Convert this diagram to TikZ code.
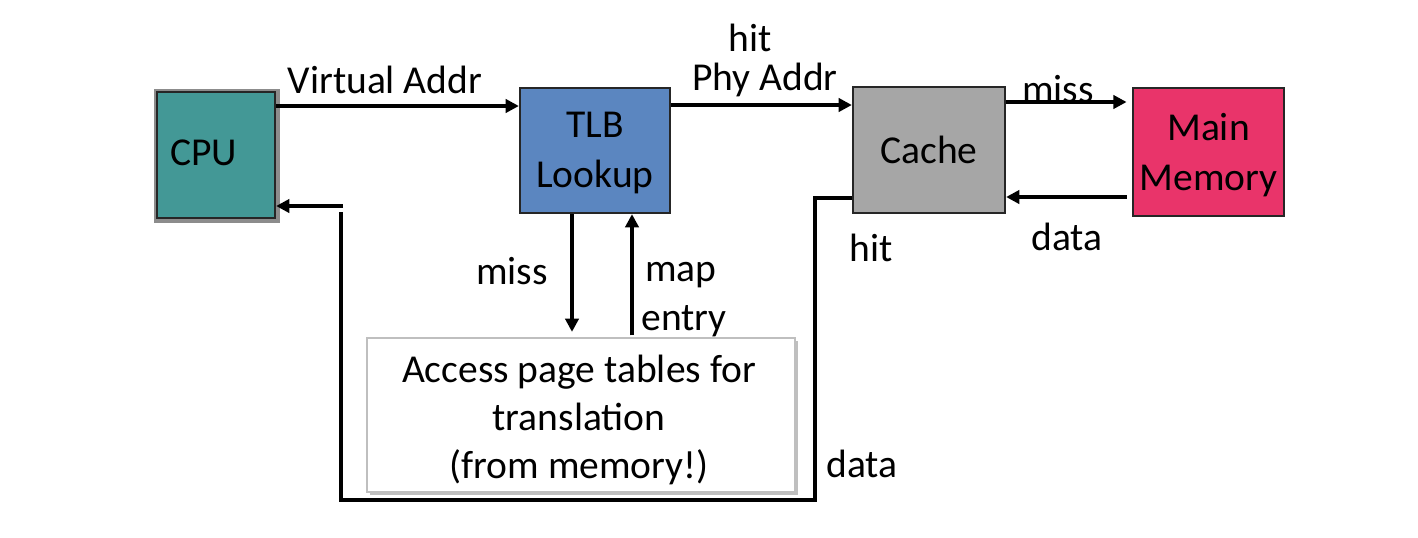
\documentclass[tikz,border=0pt]{standalone}
\usepackage{fontspec}
\setmainfont{Carlito}
\usetikzlibrary{arrows.meta}
\definecolor{cputeal}{RGB}{67,152,150}
\definecolor{tlbblue}{RGB}{91,134,192}
\definecolor{cachegray}{RGB}{166,166,166}
\definecolor{mempink}{RGB}{233,52,106}
\tikzset{
  blk/.style={draw=black!85, line width=1.3pt, inner sep=0pt, align=center},
  arr/.style={line width=2.1pt, -{Triangle[length=7.5pt,width=7.5pt]}},
  ln/.style={line width=2.1pt},
  lbl/.style={inner sep=0pt},
  two/.style={inner sep=0pt, align=center, font=\fontsize{22.5}{28.5}\selectfont}
}
\begin{document}
\begin{tikzpicture}[x=0.02cm,y=-0.02cm,font=\fontsize{22.5}{27}\selectfont]
\useasboundingbox (0,0) rectangle (1418,538);
% shadows
\fill[black!45] (154,89) rectangle (280,223);
\fill[black!25] (370,341) rectangle (798,495);
% boxes
\node[blk, fill=cputeal, minimum width=2.36cm, minimum height=2.52cm] (cpu) at (216,155) {};
\node[lbl, anchor=west] (cputxt) at (170,153) {CPU};
\node[blk, fill=tlbblue, minimum width=3.0cm, minimum height=2.5cm] (tlb) at (595,150.5) {};
\node[two] (tlbtxt) at (595,153) {TLB\\Lookup};
\node[blk, fill=cachegray, minimum width=3.04cm, minimum height=2.52cm] (cache) at (929,150) {Cache};
\node[blk, fill=mempink, minimum width=3.02cm, minimum height=2.56cm] (mem) at (1208.5,152) {};
\node[two] (memtxt) at (1208.5,155) {Main\\Memory};
\node[draw=black!25, line width=1pt, fill=white, minimum width=8.56cm, minimum height=3.08cm, inner sep=0pt] (pt) at (581,415) {};
\node[inner sep=0pt, align=center, font=\fontsize{22.5}{27.5}\selectfont] (pttxt) at (579,420) {Access page tables for\\translation\\(from memory!)};
% connectors
\coordinate (va) at (0,106);
\draw[arr] (cpu.east |- va) -- (tlb.west |- va);
\coordinate (pa) at (0,105);
\draw[arr] (tlb.east |- pa) -- (cache.west |- pa);
\coordinate (ms) at (0,102);
\draw[arr, shorten >=3pt] (cache.east |- ms) -- (mem.west |- ms);
\coordinate (dt) at (0,197);
\draw[arr, shorten <=3pt] (mem.west |- dt) -- (cache.east |- dt);
\coordinate (tm) at (572,0);
\draw[arr, shorten >=3pt] (tlb.south -| tm) -- (pt.north -| tm);
\coordinate (me) at (632,0);
\draw[arr, shorten <=1pt] (pt.north -| me) -- (tlb.south -| me);
\coordinate (ch) at (0,198);
\coordinate (c1) at (815,198);
\coordinate (c2) at (815,500);
\coordinate (c3) at (341,500);
\coordinate (c4) at (341,212);
\draw[ln] (cache.west |- ch) -- (c1) -- (c2) -- (c3) -- (c4);
\coordinate (c5) at (343,206);
\draw[arr] (c5) -- (cpu.east |- c5);
% labels
\node[lbl] (l1) at (385,80) {Virtual Addr};
\node[lbl] (l2) at (750,38) {hit};
\node[lbl] (l3) at (765,80) {Phy Addr};
\node[lbl] (l4) at (1058,89) {miss};
\node[lbl] (l5) at (1067,237) {data};
\node[lbl] (l6) at (871,248) {hit};
\node[lbl] (l7) at (862,464) {data};
\node[lbl] (l8) at (512,271) {miss};
\node[lbl, anchor=west] (l9) at (645,275) {map};
\node[lbl, anchor=west] (l10) at (641,321) {entry};
\end{tikzpicture}
\end{document}
